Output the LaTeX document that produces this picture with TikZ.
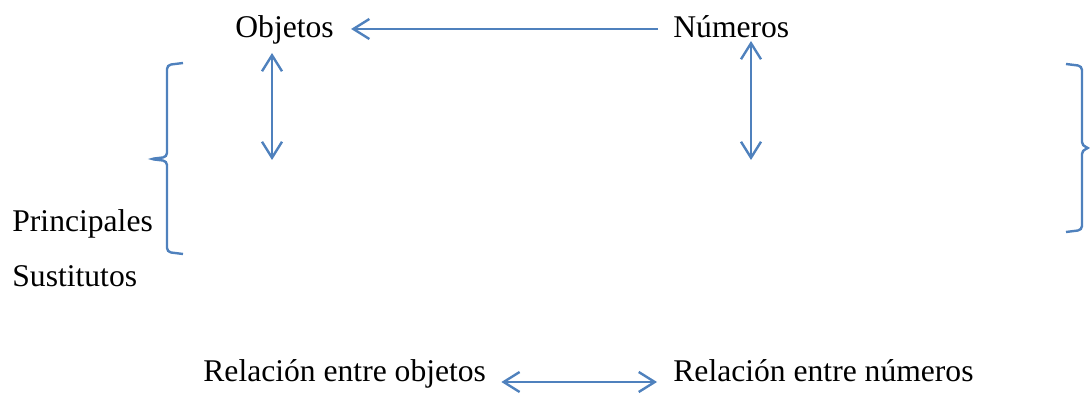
\documentclass[tikz,border=0pt]{standalone}
\usepackage{fontspec}
\setmainfont{Liberation Serif}
\usetikzlibrary{arrows.meta}
\definecolor{lineblue}{HTML}{4F81BD}
\tikzset{
  etiqueta/.style={inner sep=0pt, anchor=base west, font=\fontsize{15.8}{19}\selectfont},
  flecha/.style={draw=lineblue, line width=1.2pt, {Straight Barb[length=8pt,width=10pt,line width=1.2pt]}-{Straight Barb[length=8pt,width=10pt,line width=1.2pt]}},
  flechaizq/.style={draw=lineblue, line width=1.2pt, -{Straight Barb[length=8pt,width=10pt,line width=1.2pt]}},
  llave/.style={draw=lineblue, line width=1.2pt, rounded corners=2pt}
}
\begin{document}
\begin{tikzpicture}[x=0.5pt, y=-0.5pt]
    \useasboundingbox (0,0) rectangle (1090,394);
    % textos
    \node[etiqueta] (obj) at (235,38) {Objetos};
    \node[etiqueta] (num) at (673,38) {Números};
    \node[etiqueta] (prin) at (12,232) {Principales};
    \node[etiqueta] (sust) at (12,287) {Sustitutos};
    \node[etiqueta] (relobj) at (203,381) {Relación entre objetos};
    \node[etiqueta] (relnum) at (673,381) {Relación entre números};
    
    % extremos de las flechas verticales
    \coordinate (objA) at (272,53);
    \coordinate (objB) at (272,160);
    \coordinate (numA) at (751,41);
    \coordinate (numB) at (751,160);
    
    % flechas
    \draw[flechaizq, shorten <=7.5pt, shorten >=8.5pt] ([yshift=4.5pt]num.base west) coordinate (numW) -- (numW -| obj.east);
    \draw[flecha] (objA) -- (objB);
    \draw[flecha] (numA) -- (numB);
    \draw[flecha, shorten <=7.5pt, shorten >=8pt] ([yshift=-0.5pt]relobj.base east) -- ([yshift=-0.5pt]relobj.base east -| relnum.base west);
    
    % llaves
    \draw[llave] (183,63) -- (167,65) -- (167,157) -- (150,159) -- (167,161) -- (167,252) -- (183,254);
    \draw[llave] (1066,64) -- (1082,66) -- (1082,146) -- (1090,148) -- (1082,150) -- (1082,230) -- (1066,232);
\end{tikzpicture}
\end{document}
